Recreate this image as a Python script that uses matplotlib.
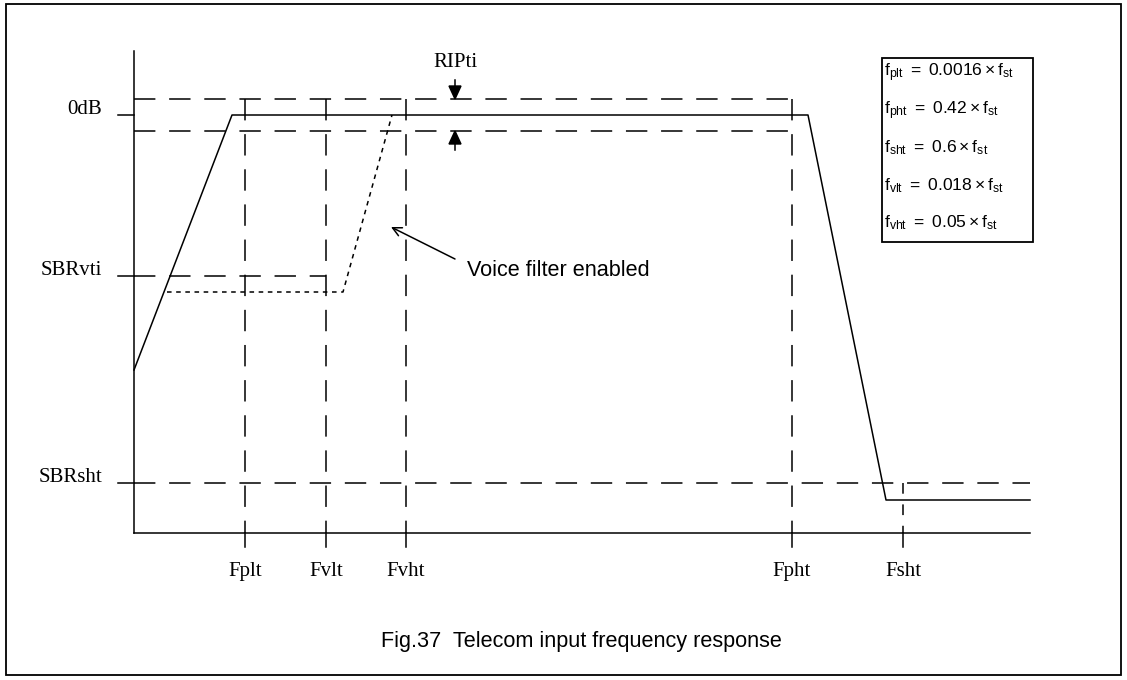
import matplotlib.pyplot as plt
import matplotlib.patches as mpatches

plt.rcParams['mathtext.fontset'] = 'custom'
plt.rcParams['mathtext.rm'] = 'Liberation Sans'
plt.rcParams['mathtext.it'] = 'Liberation Sans'

## frequency marks (x) and level marks (y), drawing units
freq_names = ['Fplt', 'Fvlt', 'Fvht', 'Fpht', 'Fsht']
freq_x = [245, 326, 406, 792, 903]
level_names = ['0dB', 'SBRvti', 'SBRsht']
level_y = [115, 276, 483]
rip_top = 99;  rip_bot = 131

## response curves
resp_x = [134, 232, 808, 886, 1030]
resp_y = [370, 115, 115, 500, 500]
voice_x = [167, 343, 392]
voice_y = [292, 292, 115]

legend_lines = [r'$\mathrm{f_{plt}\ =\ 0.0016\times f_{st}}$',
                r'$\mathrm{f_{pht}\ =\ 0.42\times f_{st}}$',
                r'$\mathrm{f_{sht}\ =\ 0.6\times f_{st}}$',
                r'$\mathrm{f_{vlt}\ =\ 0.018\times f_{st}}$',
                r'$\mathrm{f_{vht}\ =\ 0.05\times f_{st}}$']

x0, x1 = 134, 1030;  y_ax = 533;  y_top = 51
lw = 1.1;  cl = 'black';  dash = (14, 9);  serif = 'Liberation Serif'
fs = 15;  fs_sans = 15.6

fig = plt.figure(figsize=(11.27, 6.8), dpi=100)
ax = fig.add_axes([0, 0, 1, 1])
ax.set_xlim(0, 1127); ax.set_ylim(680, 0); ax.axis('off')

## frame
ax.add_patch(mpatches.Rectangle((6, 4), 1115, 671, fill=False, ec=cl, lw=1.3))

## axes
ax.plot([x0, x0], [y_top, y_ax], color=cl, lw=lw)
ax.plot([x0, x1], [y_ax, y_ax], color=cl, lw=lw)

## ripple band
for yy in [rip_top, rip_bot]:
    ax.plot([x0, freq_x[3]], [yy, yy], color=cl, lw=lw, dashes=dash)
ax.plot([freq_x[3], freq_x[3]], [rip_top, y_ax], color=cl, lw=lw, dashes=dash)

## level lines
ax.plot([x0, freq_x[1]], [level_y[1], level_y[1]], color=cl, lw=lw, dashes=dash)
ax.plot([x0, x1], [level_y[2], level_y[2]], color=cl, lw=lw, dashes=dash)

## frequency verticals
for xx in freq_x[:3]:
    ax.plot([xx, xx], [rip_top, y_ax], color=cl, lw=lw, dashes=dash)
ax.plot([freq_x[4], freq_x[4]], [level_y[2], y_ax], color=cl, lw=lw, dashes=(7, 7))

## ticks and labels
for name, xx in zip(freq_names, freq_x):
    ax.plot([xx, xx], [y_ax, y_ax + 14], color=cl, lw=lw)
    ax.text(xx, 576, name, ha='center', va='baseline', fontsize=fs, family=serif)
for name, yy in zip(level_names, level_y):
    ax.plot([118, x0], [yy, yy], color=cl, lw=lw)
    ax.text(102, yy - 1, name, ha='right', va='baseline', fontsize=fs, family=serif)

## curves
ax.plot(resp_x, resp_y, color=cl, lw=lw)
ax.plot(voice_x, voice_y, color=cl, lw=lw, dashes=(3, 3))

## ripple arrows
ax.text(455, 67, 'RIPti', ha='center', va='baseline', fontsize=fs, family=serif)
ax.add_patch(mpatches.Polygon([[449, 86], [461, 86], [455, rip_top]], closed=True, color=cl))
ax.plot([455, 455], [80, 86], color=cl, lw=lw)
ax.add_patch(mpatches.Polygon([[449, 144], [461, 144], [455, rip_bot]], closed=True, color=cl))
ax.plot([455, 455], [144, 150], color=cl, lw=lw)

## annotation
ax.text(467, 270, 'Voice filter enabled', fontsize=fs_sans, family='Liberation Sans',
        va='center', ha='left')
ax.annotate('', xy=(391, 227), xytext=(455, 259),
            arrowprops=dict(arrowstyle='->', color=cl, lw=lw,
                            shrinkA=0, shrinkB=0, mutation_scale=16))

## formula box
ax.add_patch(mpatches.Rectangle((882, 58), 151, 184, fill=False, ec=cl, lw=1.3))
for ii, s in enumerate(legend_lines):
    ax.text(884, 73 + ii * 37.5, s, ha='left', va='center', fontsize=12.6)

ax.text(581, 642, 'Fig.37  Telecom input frequency response', ha='center', va='center',
        fontsize=fs_sans, family='Liberation Sans')

fig.savefig('out.png', dpi=100)
